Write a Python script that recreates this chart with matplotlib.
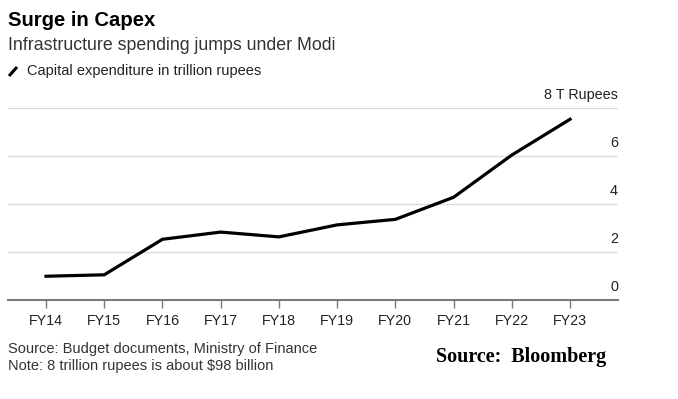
import matplotlib
matplotlib.use("Agg")
import matplotlib.pyplot as plt
from matplotlib.lines import Line2D
from matplotlib.transforms import blended_transform_factory, offset_copy

categories = ["FY14", "FY15", "FY16", "FY17", "FY18", "FY19", "FY20", "FY21", "FY22", "FY23"]
capex = [0.99, 1.05, 2.53, 2.83, 2.63, 3.13, 3.36, 4.28, 6.04, 7.53]
y_ticks = [0, 2, 4, 6, 8]
y_labels = ["0", "2", "4", "6", "8 T Rupees"]

plt.rcParams['font.family'] = ['Liberation Sans', 'DejaVu Sans']

W, H = 678, 399
fig = plt.figure(figsize=(W / 100, H / 100), dpi=100)
fig.patch.set_facecolor("white")

left, right, bottom_px, top_px = 8, 618, 300, 108
ax = fig.add_axes([left / W, 1 - bottom_px / H, (right - left) / W, (bottom_px - top_px) / H])

x = list(range(len(categories)))
ax.plot(x, capex, color="black", lw=2.3, solid_joinstyle="miter", zorder=3)

ax.set_xlim(-0.653, 9.824)
ax.set_ylim(0, 8)

for s in ["top", "right", "left"]:
    ax.spines[s].set_visible(False)
ax.spines["bottom"].set_color("#7a7a7a")
ax.spines["bottom"].set_linewidth(1.5)

ax.set_yticks([])
for v in y_ticks[1:]:
    ax.axhline(v, color="#dcdcdc", lw=1.0, zorder=1)

ax.set_xticks(x)
ax.set_xticklabels(categories, fontsize=10.3, color="#222222")
ax.tick_params(axis="x", direction="out", length=6, width=1, color="#7a7a7a", pad=4)

trans = blended_transform_factory(ax.transAxes, ax.transData)
trans = offset_copy(trans, fig=fig, x=0, y=4, units="points")
for v, lab in zip(y_ticks, y_labels):
    ax.text(1.0, v, lab, transform=trans, ha="right", va="bottom", fontsize=10.4, color="#222222")

fig.text(8 / W, 1 - 20 / H, "Surge in Capex", fontsize=14.6, fontweight="bold", va="center", ha="left", color="black")
fig.text(8 / W, 1 - 46 / H, "Infrastructure spending jumps under Modi", fontsize=12.8, va="center", ha="left", color="#333333")
fig.add_artist(Line2D([9 / W, 17 / W], [1 - 76 / H, 1 - 67 / H], transform=fig.transFigure, color="black", lw=2.2, solid_capstyle="butt"))
fig.text(27 / W, 1 - 71 / H, "Capital expenditure in trillion rupees", fontsize=10.5, va="center", ha="left", color="#222222")

fig.text(8 / W, 1 - 349 / H, "Source: Budget documents, Ministry of Finance", fontsize=10.5, va="center", ha="left", color="#333333")
fig.text(8 / W, 1 - 366 / H, "Note: 8 trillion rupees is about $98 billion", fontsize=10.5, va="center", ha="left", color="#333333")
fig.text(436 / W, 1 - 357 / H, "Source:  Bloomberg", fontsize=14.5, fontweight="bold", va="center", ha="left",
         family=["Liberation Serif", "DejaVu Serif"], color="black")

fig.savefig("out.png", dpi=100, facecolor="white")
